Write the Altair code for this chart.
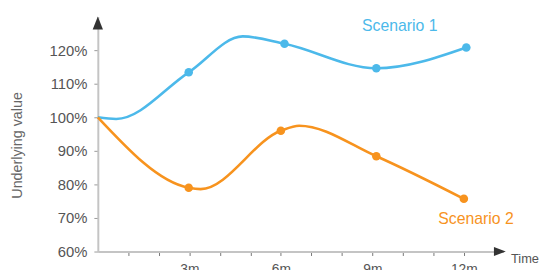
import altair as alt
import pandas as pd

# ---- data ----
series = ["Scenario 1", "Scenario 2"]

# traced course of each curve (months, % of start value)
s1_curve_m = [0, 0.6, 2.98, 4.75, 6.12, 9.13, 12.08]
s1_curve_v = [100, 99.5, 113.4, 124.1, 121.9, 114.6, 120.8]
s2_curve_m = [0, 2.98, 3.37, 6.0, 6.6, 9.13, 12.0]
s2_curve_v = [100, 79.0, 78.6, 96.0, 97.5, 88.4, 75.7]

# marked observation points
s1_pts_m = [2.98, 6.12, 9.13, 12.08]
s1_pts_v = [113.4, 121.9, 114.6, 120.8]
s2_pts_m = [2.98, 6.0, 9.13, 12.0]
s2_pts_v = [79.0, 96.0, 88.4, 75.7]

# series label positions
label_m = [9.9, 12.4]
label_v = [127.1, 69.8]

x_ticks = list(range(1, 13))
y_ticks = [60, 70, 80, 90, 100, 110, 120]

# axis arrow heads (data positions at the axis ends)
yarrow_m, yarrow_v = [0], [128.1]
xarrow_m, xarrow_v = [13.18], [60]

BLUE = "#4cb9ea"
ORANGE = "#f7931e"
FONT = "Liberation Sans"

line_df = pd.DataFrame({
    "m": s1_curve_m + s2_curve_m,
    "v": s1_curve_v + s2_curve_v,
    "s": [series[0]] * len(s1_curve_m) + [series[1]] * len(s2_curve_m),
})
pts_df = pd.DataFrame({
    "m": s1_pts_m + s2_pts_m,
    "v": s1_pts_v + s2_pts_v,
    "s": [series[0]] * len(s1_pts_m) + [series[1]] * len(s2_pts_m),
})
lab_df = pd.DataFrame({"m": label_m, "v": label_v, "s": series})
ya_df = pd.DataFrame({"m": yarrow_m, "v": yarrow_v})
xa_df = pd.DataFrame({"m": xarrow_m, "v": xarrow_v})

x_scale = alt.Scale(domain=[0, 13.3], nice=False, zero=False)
y_scale = alt.Scale(domain=[60, 130], nice=False, zero=False)
c_scale = alt.Scale(domain=series, range=[BLUE, ORANGE])

x_axis = alt.Axis(
    values=x_ticks,
    labelExpr="datum.value % 3 == 0 ? datum.value + 'm' : ''",
    domainColor="#c4c4c4", domainWidth=2,
    tickColor="#777777", tickSize=4, tickWidth=1,
    labelFont=FONT, labelFontSize=14, labelColor="#555555", labelPadding=7,
    labelFlush=False, labelOverlap=False, grid=False,
    title="Time", titleX=418, titleY=7, titleAlign="left", titleBaseline="middle",
    titleFont=FONT, titleFontSize=13, titleFontWeight="normal", titleColor="#555555",
)
y_axis = alt.Axis(
    values=y_ticks,
    labelExpr="datum.value + '%'",
    domainColor="#c4c4c4", domainWidth=2,
    tickColor="#999999", tickSize=4, tickWidth=1,
    labelFont=FONT, labelFontSize=15, labelColor="#555555", labelPadding=7,
    labelFlush=False, labelOverlap=False, grid=False,
    title="Underlying value", titleX=-81, titleY=130, titleAngle=270,
    titleAlign="center", titleBaseline="middle",
    titleFont=FONT, titleFontSize=14.5, titleFontWeight="normal", titleColor="#666666",
)

X = alt.X("m:Q", scale=x_scale, axis=x_axis)
Y = alt.Y("v:Q", scale=y_scale, axis=y_axis)

lines = alt.Chart(line_df).mark_line(interpolate="monotone", strokeWidth=2.6).encode(
    x=X, y=Y,
    color=alt.Color("s:N", scale=c_scale, legend=None),
)
points = alt.Chart(pts_df).mark_circle(size=75, opacity=1).encode(
    x=X, y=Y,
    color=alt.Color("s:N", scale=c_scale, legend=None),
)
labels = alt.Chart(lab_df).mark_text(font=FONT, fontSize=16, align="center", baseline="middle").encode(
    x=X, y=Y,
    text="s:N",
    color=alt.Color("s:N", scale=c_scale, legend=None),
)
yarrow = alt.Chart(ya_df).mark_point(
    shape="M0,-1L0.8,1L-0.8,1Z", filled=True, size=169, color="#333333", opacity=1
).encode(x=X, y=Y)
xarrow = alt.Chart(xa_df).mark_point(
    shape="M1,0L-1,-0.75L-1,0.75Z", filled=True, size=144, color="#333333", opacity=1
).encode(x=X, y=Y)

chart = alt.layer(lines, points, labels, yarrow, xarrow).properties(
    width=411, height=238,
    padding={"left": 91, "top": 7, "right": 40, "bottom": 17},
    autosize=alt.AutoSizeParams(type="none"),
).configure_view(stroke=None).configure_axis(labelOverlap=False)

chart.save("out.html", embed_options={"renderer": "svg", "actions": False})
